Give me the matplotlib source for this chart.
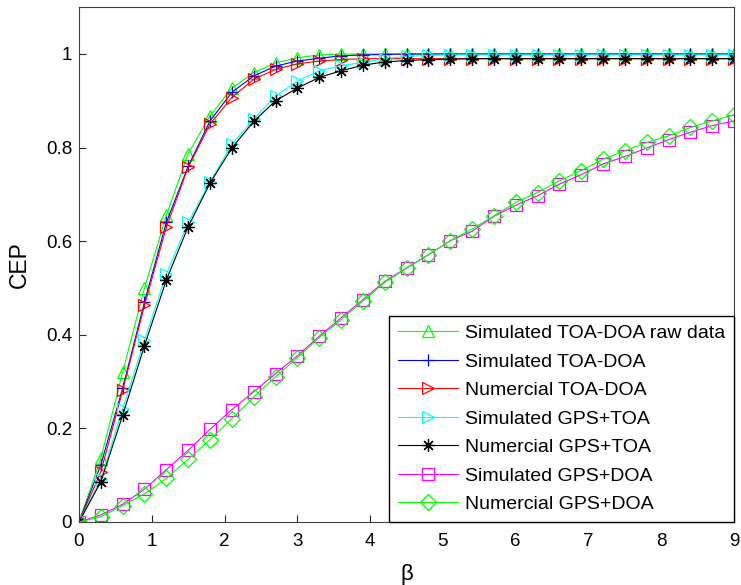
import numpy as np
import matplotlib
matplotlib.use("Agg")
import matplotlib.pyplot as plt

plt.rcParams['font.family'] = ['Liberation Sans', 'DejaVu Sans']

# beta values, one point every 0.3
beta = np.round(np.arange(0, 9.01, 0.3), 1)

# CEP curves
raw_toa_doa = [0.0, 0.136, 0.320, 0.500, 0.655, 0.787, 0.868, 0.927, 0.960, 0.981,
               0.992, 0.998, 1.0, 1.0, 1.0, 1.0, 1.0, 1.0, 1.0, 1.0,
               1.0, 1.0, 1.0, 1.0, 1.0, 1.0, 1.0, 1.0, 1.0, 1.0, 1.0]
sim_toa_doa = [0.0, 0.122, 0.286, 0.470, 0.640, 0.760, 0.857, 0.918, 0.953, 0.974,
               0.985, 0.991, 0.996, 0.998, 0.999, 1.0, 1.0, 1.0, 1.0, 1.0,
               1.0, 1.0, 1.0, 1.0, 1.0, 1.0, 1.0, 1.0, 1.0, 1.0, 1.0]
num_toa_doa = [0.0, 0.107, 0.281, 0.463, 0.630, 0.758, 0.850, 0.907, 0.946, 0.967,
               0.979, 0.985, 0.988, 0.990, 0.990, 0.990, 0.990, 0.990, 0.990, 0.990,
               0.990, 0.990, 0.990, 0.990, 0.990, 0.990, 0.990, 0.990, 0.990, 0.990, 0.990]
sim_gps_toa = [0.0, 0.091, 0.242, 0.388, 0.530, 0.640, 0.726, 0.807, 0.861, 0.910,
               0.942, 0.964, 0.975, 0.982, 0.990, 0.995, 0.997, 0.998, 0.998, 0.998,
               0.998, 0.998, 0.998, 0.998, 0.998, 0.998, 0.998, 0.998, 0.998, 0.998, 0.998]
num_gps_toa = [0.0, 0.086, 0.228, 0.377, 0.517, 0.631, 0.724, 0.799, 0.856, 0.900,
               0.927, 0.950, 0.964, 0.976, 0.983, 0.986, 0.988, 0.989, 0.990, 0.990,
               0.990, 0.990, 0.990, 0.990, 0.990, 0.990, 0.990, 0.990, 0.990, 0.990, 0.990]
sim_gps_doa = [0.0, 0.015, 0.038, 0.070, 0.112, 0.153, 0.198, 0.240, 0.278, 0.317,
               0.355, 0.397, 0.436, 0.475, 0.514, 0.543, 0.571, 0.601, 0.621, 0.653,
               0.677, 0.697, 0.722, 0.742, 0.765, 0.781, 0.799, 0.817, 0.833, 0.847, 0.857]
num_gps_doa = [0.0, 0.011, 0.035, 0.060, 0.093, 0.134, 0.176, 0.221, 0.267, 0.310,
               0.351, 0.394, 0.432, 0.472, 0.512, 0.542, 0.571, 0.601, 0.626, 0.654,
               0.683, 0.704, 0.729, 0.751, 0.775, 0.793, 0.811, 0.825, 0.843, 0.857, 0.870]

asterisk = (8, 2, 0)  # matlab style '*'
series = [
    (raw_toa_doa, '#00ff00', '^', 'Simulated TOA-DOA raw data'),
    (sim_toa_doa, '#0000ff', '+', 'Simulated TOA-DOA'),
    (num_toa_doa, '#ff0000', '>', 'Numercial TOA-DOA'),
    (sim_gps_toa, '#00ffff', '>', 'Simulated GPS+TOA'),
    (num_gps_toa, '#000000', asterisk, 'Numercial GPS+TOA'),
    (sim_gps_doa, '#ff00ff', 's', 'Simulated GPS+DOA'),
    (num_gps_doa, '#00ff00', 'D', 'Numercial GPS+DOA'),
]

fig = plt.figure(figsize=(7.41, 5.85), dpi=100)
ax = fig.add_axes([0.1066, 0.1077, 0.884, 0.880])

for vals, col, mk, lab in series:
    ms = 9
    if mk == 'D':
        ms = 8
    ax.plot(beta, vals, color=col, marker=mk, markersize=ms, markerfacecolor='none',
            markeredgecolor=col, markeredgewidth=0.9, linewidth=0.8, label=lab)

ax.set_xlim(0, 9)
ax.set_ylim(0, 1.1)
ax.set_xticks(range(0, 10))
ax.set_yticks([0, 0.2, 0.4, 0.6, 0.8, 1])
ax.set_yticklabels(['0', '0.2', '0.4', '0.6', '0.8', '1'])
ax.tick_params(direction='in', length=5, width=0.8, labelsize=13.5, color='#262626')
ax.tick_params(axis='x', pad=8)
ax.tick_params(axis='y', pad=5)
for sp in ax.spines.values():
    sp.set_color('#404040')
    sp.set_linewidth(0.8)

ax.set_xlabel('β', fontsize=16, labelpad=10)
ax.set_ylabel('CEP', fontsize=16.5, labelpad=11)

leg = ax.legend(loc='lower right', fontsize=14, fancybox=False, framealpha=1,
                edgecolor='black', borderaxespad=0, handlelength=3.1,
                labelspacing=0.56, borderpad=0.45, handletextpad=0.36)
leg.get_frame().set_linewidth(1.0)

fig.savefig('out.png', dpi=100)
